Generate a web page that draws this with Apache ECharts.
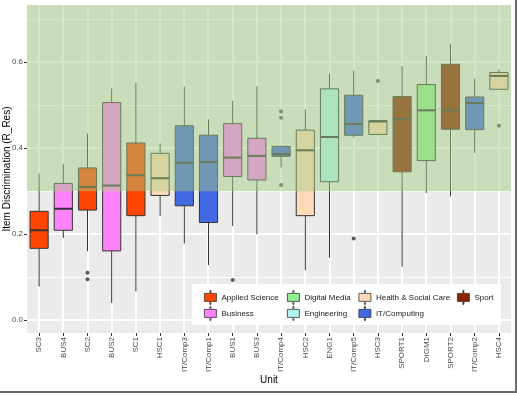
<!DOCTYPE html>
<html><head><meta charset="utf-8">
<script src="https://cdn.jsdelivr.net/npm/echarts@6/dist/echarts.min.js"></script>
<style>
html,body{margin:0;padding:0;background:#fff;}
#frame{position:absolute;left:0;top:0;width:515px;height:391px;border-right:2px solid #6b6b6b;border-bottom:2px solid #6b6b6b;}
#chart{width:515px;height:391px;}
</style></head>
<body><div id="frame"><div id="chart"></div></div>
<script>
// ---- data ----
const units = ['SC3','BUS4','SC2','BUS2','SC1','HSC1','IT/Comp3','IT/Comp1','BUS1','BUS3','IT/Comp4','HSC2','ENG1','IT/Comp5','HSC3','SPORT1','DIGM1','SPORT2','IT/Comp2','HSC4'];
const unitGroup = ['Applied Science','Business','Applied Science','Business','Applied Science','Health & Social Care','IT/Computing','IT/Computing','Business','Business','IT/Computing','Health & Social Care','Engineering','IT/Computing','Health & Social Care','Sport','Digital Media','Sport','IT/Computing','Health & Social Care'];
const whiskerLow  = [0.078,0.191,0.160,0.040,0.067,0.242,0.178,0.128,0.219,0.200,0.355,0.116,0.145,0.425,0.430,0.124,0.296,0.288,0.389,0.537];
const q1          = [0.167,0.209,0.256,0.161,0.243,0.290,0.266,0.227,0.334,0.326,0.381,0.243,0.322,0.430,0.432,0.345,0.371,0.444,0.443,0.537];
const median      = [0.209,0.259,0.310,0.313,0.337,0.330,0.366,0.368,0.378,0.382,0.386,0.395,0.426,0.456,0.462,0.467,0.488,0.488,0.505,0.568];
const q3          = [0.253,0.318,0.354,0.506,0.412,0.388,0.452,0.430,0.457,0.423,0.404,0.442,0.538,0.523,0.464,0.520,0.548,0.595,0.519,0.576];
const whiskerHigh = [0.341,0.363,0.434,0.539,0.553,0.411,0.543,0.467,0.510,0.544,0.404,0.490,0.574,0.580,0.464,0.591,0.615,0.643,0.562,0.583];
const outlierUnits  = ['SC2','SC2','BUS1','IT/Comp4','IT/Comp4','IT/Comp4','IT/Comp5','HSC3','HSC4'];
const outlierValues = [0.110,0.095,0.093,0.485,0.471,0.314,0.190,0.556,0.452];
const groups = ['Applied Science','Business','Digital Media','Engineering','Health & Social Care','IT/Computing','Sport'];
const groupColors = ['#FF4500','#FF83FA','#90EE90','#B0F5F0','#FFDAB9','#4169E1','#8B2500'];
const yTicks = [0, 0.2, 0.4, 0.6];
const yMinorTicks = [0.1, 0.3, 0.5, 0.7];
const highlightFrom = 0.3;
const yMin = -0.03, yMax = 0.733;

// ---- chart ----
const FONT = 'Liberation Sans, Arial, sans-serif';
const chart = echarts.init(document.getElementById('chart'), null, {renderer:'canvas'});

const boxData = units.map((u, i) => [u, whiskerLow[i], q1[i], median[i], q3[i], whiskerHigh[i], groups.indexOf(unitGroup[i])]);

function renderBox(params, api) {
  const x = api.value(0);
  const lo = api.coord([x, api.value(1)]);
  const b1 = api.coord([x, api.value(2)]);
  const md = api.coord([x, api.value(3)]);
  const b3 = api.coord([x, api.value(4)]);
  const hi = api.coord([x, api.value(5)]);
  const fill = groupColors[api.value(6)];
  const bw = api.size([1, 0])[0] * 0.75;
  const cx = lo[0];
  const stroke = '#333333';
  return {
    type: 'group',
    children: [
      {type:'line', shape:{x1:cx, y1:hi[1], x2:cx, y2:b3[1]}, style:{stroke, lineWidth:1}},
      {type:'line', shape:{x1:cx, y1:b1[1], x2:cx, y2:lo[1]}, style:{stroke, lineWidth:1}},
      {type:'rect', shape:{x:cx-bw/2, y:b3[1], width:bw, height:b1[1]-b3[1]}, style:{fill, stroke, lineWidth:1}},
      {type:'line', shape:{x1:cx-bw/2, y1:md[1], x2:cx+bw/2, y2:md[1]}, style:{stroke, lineWidth:2}}
    ]
  };
}

// ggplot-like panel: pixel-aligned grey cells separated by white gaps (the grid lines);
// gap positions come from the axes' scales
function renderPanel(params, api) {
  const cs = params.coordSys;
  const xs = [{p: cs.x, w: 0}]
    .concat(units.map(u => ({p: api.coord([u, yMin])[0], w: 2})))
    .concat([{p: cs.x + cs.width, w: 0}]);
  const yl = yTicks.map(v => ({p: api.coord([units[0], v])[1], w: 2}))
    .concat(yMinorTicks.map(v => ({p: api.coord([units[0], v])[1], w: 1})))
    .filter(o => o.p > cs.y && o.p < cs.y + cs.height)
    .sort((a, b) => a.p - b.p);
  const ys = [{p: cs.y, w: 0}].concat(yl).concat([{p: cs.y + cs.height, w: 0}]);
  const startOf = o => Math.round(o.p - o.w / 2) + o.w;
  const endOf = o => Math.round(o.p - o.w / 2);
  const children = [];
  for (let i = 0; i < xs.length - 1; i++) {
    const x0 = startOf(xs[i]), x1 = endOf(xs[i + 1]);
    for (let j = 0; j < ys.length - 1; j++) {
      const y0 = startOf(ys[j]), y1 = endOf(ys[j + 1]);
      children.push({type:'rect', shape:{x:x0, y:y0, width:x1 - x0, height:y1 - y0}, style:{fill:'#EBEBEB'}});
    }
  }
  return {type:'group', children};
}

const iconPath = 'path://M5.5,0h1v3h5.5v8h-5.5v3h-1v-3h-5.5v-8h5.5z';
const legendPos = [
  [204, 290], [204, 306], [287, 290], [287, 306], [358.5, 290], [358.5, 306], [457, 290]
];
const legends = groups.map((g, i) => ({
  data: [{name: g, icon: iconPath, itemStyle:{color: groupColors[i], borderColor:'#333', borderWidth:0.8}}],
  left: legendPos[i][0], top: legendPos[i][1], padding: 0,
  itemWidth: 12, itemHeight: 14, itemGap: 0, z: 30,
  selectedMode: false,
  textStyle: {fontSize: 8, color:'#1A1A1A', fontFamily: FONT, padding:[0,0,0,0]}
}));

const series = [
  {type:'custom', name:'_panel', data: [[units[0], 0]], renderItem: renderPanel, z:1, silent:true, clip:false,
   encode:{x:0, y:1}},
  {
    type:'custom', name:'_boxes', data: boxData, renderItem: renderBox, z:3, silent:true,
    encode:{x:0, y:[1,2,3,4,5]}
  },
  {
    type:'scatter', name:'_outliers', data: outlierUnits.map((u, i) => [u, outlierValues[i]]),
    symbolSize: 4, itemStyle:{color:'#333333'}, z:4, silent:true
  },
  {
    type:'line', name:'_overlay', data:[], silent:true, z:5,
    markArea:{silent:true, z:10, animation:false, itemStyle:{color:'rgba(165,207,131,0.47)'},
      data:[[{yAxis: highlightFrom}, {yAxis: yMax}]]}
  }
].concat(groups.map((g, i) => ({type:'custom', name:g, data:[], renderItem: () => null, itemStyle:{color: groupColors[i]}})));

chart.setOption({
  animation: false,
  backgroundColor: '#fff',
  textStyle: {fontFamily: FONT},
  grid: {left: 27, right: 4, top: 5, bottom: 58, show: false, containLabel:false, outerBoundsMode:'none'},
  graphic: [{type:'rect', left:192, top:284, shape:{width:309, height:41}, style:{fill:'#fff'}, z: 20, silent:true}],
  legend: legends,
  xAxis: {
    type:'category', data: units,
    axisLine:{show:false, onZero:false},
    axisTick:{show:true, alignWithLabel:true, length:3, lineStyle:{color:'#333'}, interval:0},
    axisLabel:{rotate:90, fontSize:8, color:'#4D4D4D', margin:4, interval:0, fontFamily: FONT},
    splitLine:{show:false},
    name:'Unit', nameLocation:'middle', nameGap:42, nameMoveOverlap:false,
    nameTextStyle:{fontSize:10, color:'#000', fontFamily: FONT}
  },
  yAxis: {
    type:'value', min: yMin, max: yMax, splitNumber: 4,
    axisLine:{show:false, onZero:false},
    axisTick:{show:true, length:3, lineStyle:{color:'#333'}, customValues: yTicks},
    axisLabel:{customValues: yTicks, formatter: v => Number(v).toFixed(1), fontSize:8, color:'#4D4D4D', margin:4, fontFamily: FONT},
    splitLine:{show:false},
    name:'Item Discrimination (R_Res)', nameLocation:'middle', nameGap:15, nameMoveOverlap:false,
    nameTextStyle:{fontSize:10, color:'#000', fontFamily: FONT}
  },
  series: series
});
</script>
</body></html>
